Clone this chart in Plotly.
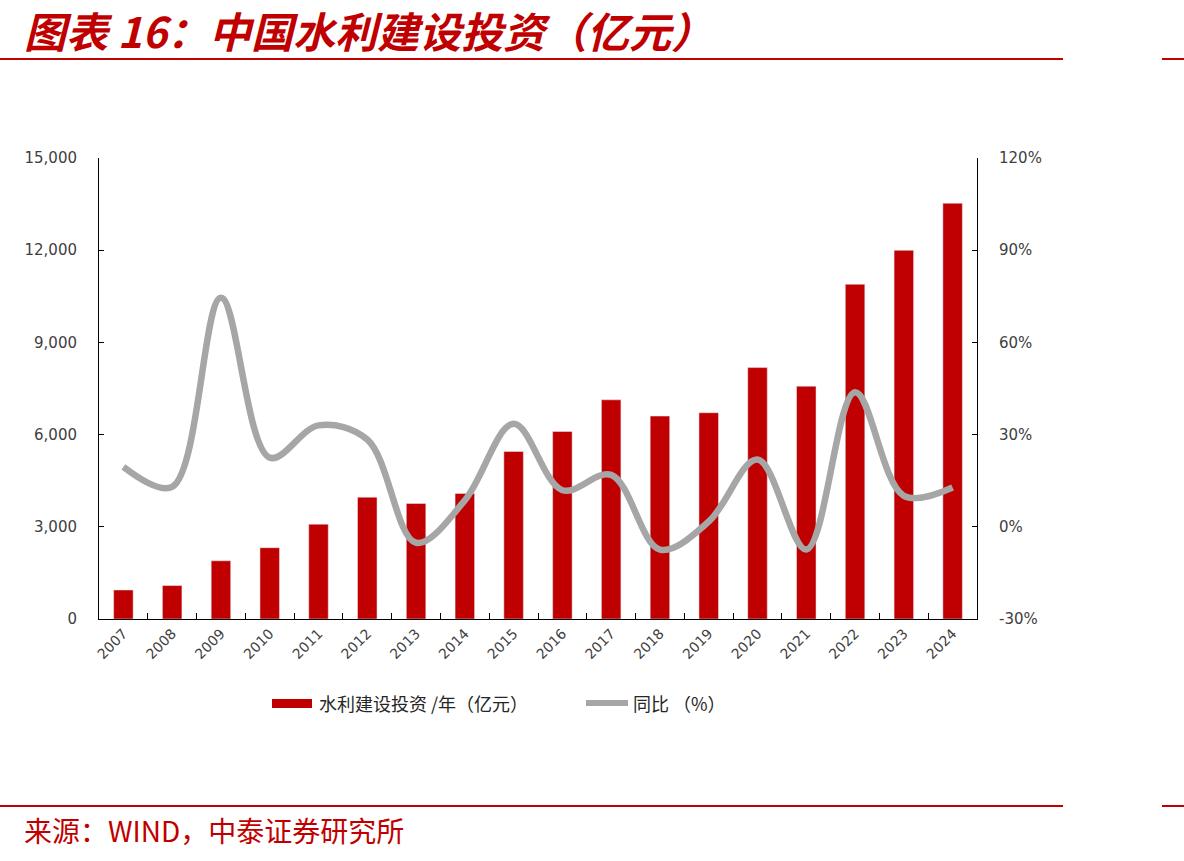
import plotly.graph_objects as go

years = ["2007", "2008", "2009", "2010", "2011", "2012", "2013", "2014", "2015",
         "2016", "2017", "2018", "2019", "2020", "2021", "2022", "2023", "2024"]
investment = [944, 1088, 1894, 2320, 3086, 3964, 3758, 4083, 5452,
              6100, 7132, 6603, 6712, 8181, 7576, 10893, 11996, 13529]
yoy = [19.5, 13.0, 74.5, 22.5, 33.0, 28.4, -5.2, 8.6, 33.5,
       11.9, 16.9, -7.4, 1.7, 21.9, -7.4, 43.8, 10.1, 12.8]

left_ticks = [0, 3000, 6000, 9000, 12000, 15000]
right_ticks = [-30, 0, 30, 60, 90, 120]

title_text = "图表 16：中国水利建设投资（亿元）"
source_text = "来源：WIND，中泰证券研究所"
bar_name = "水利建设投资 /年（亿元）"
line_name = "同比 （%）"

RED = "#C00000"
GRAY = "#A6A6A6"
TXT = "#404040"
TICKFONT = "DejaVu Sans, Verdana, sans-serif"

fig = go.Figure()
fig.add_trace(go.Bar(x=years, y=investment, name=bar_name, marker_color=RED,
                     width=0.4, yaxis="y"))
fig.add_trace(go.Scatter(x=years, y=yoy, name=line_name, mode="lines",
                         line=dict(color=GRAY, width=6.5, shape="spline", smoothing=1.0),
                         yaxis="y2"))

W, H = 1184, 861
L, R, T, B = 99, 977, 158, 619
fig.update_layout(
    width=W, height=H,
    margin=dict(l=L, r=W - R, t=T, b=H - B),
    paper_bgcolor="white", plot_bgcolor="white",
    showlegend=False,
    font=dict(family=TICKFONT, color=TXT, size=14),
    xaxis=dict(type="category", showline=True, linecolor="#000000", linewidth=1,
               ticks="inside", ticklen=6, tickcolor="#000000", tickson="boundaries",
               tickangle=-45, tickfont=dict(family=TICKFONT, size=14, color=TXT),
               showgrid=False, range=[-0.5, 17.5]),
    yaxis=dict(range=[0, 15000], tickvals=left_ticks,
               ticktext=[f"{v:,}" for v in left_ticks],
               showline=True, linecolor="#000000", linewidth=1,
               ticks="inside", ticklen=5, tickcolor="#000000",
               showgrid=False, zeroline=False,
               tickfont=dict(family=TICKFONT, size=15, color=TXT),
               ticklabelstandoff=18),
    yaxis2=dict(range=[-30, 120], tickvals=right_ticks,
                ticktext=[f"{v}%" for v in right_ticks],
                overlaying="y", side="right",
                showline=True, linecolor="#000000", linewidth=1,
                ticks="inside", ticklen=5, tickcolor="#000000",
                showgrid=False, zeroline=False,
                tickfont=dict(family=TICKFONT, size=15, color=TXT),
                ticklabelstandoff=18),
)

# convert page pixels to paper coordinates (relative to the plot area)
def px(x):
    return (x - L) / (R - L)

def py(y):
    return (B - y) / (B - T)

shapes = []
for y in (59, 806):
    shapes.append(dict(type="line", xref="paper", yref="paper",
                       x0=px(0), x1=px(1063), y0=py(y), y1=py(y),
                       line=dict(color=RED, width=2)))
    shapes.append(dict(type="line", xref="paper", yref="paper",
                       x0=px(1162), x1=px(1184), y0=py(y), y1=py(y),
                       line=dict(color=RED, width=2)))
shapes.append(dict(type="rect", xref="paper", yref="paper",
                   x0=px(272), x1=px(312), y0=py(708), y1=py(699),
                   fillcolor=RED, line=dict(width=0)))
shapes.append(dict(type="line", xref="paper", yref="paper",
                   x0=px(586), x1=px(628), y0=py(703), y1=py(703),
                   line=dict(color=GRAY, width=6)))
fig.update_layout(shapes=shapes)

annotations = [
    dict(text="<b><i>" + title_text + "</i></b>", xref="paper", yref="paper",
         x=px(22), y=py(29), xanchor="left", yanchor="middle", showarrow=False,
         font=dict(family="Noto Sans CJK SC", size=42, color=RED)),
    dict(text=source_text, xref="paper", yref="paper",
         x=px(22), y=py(830), xanchor="left", yanchor="middle", showarrow=False,
         font=dict(family="Noto Sans CJK SC", size=28, color=RED)),
    dict(text=bar_name, xref="paper", yref="paper",
         x=px(317), y=py(703), xanchor="left", yanchor="middle", showarrow=False,
         font=dict(family="Noto Sans CJK SC", size=18, color="#262626")),
    dict(text=line_name, xref="paper", yref="paper",
         x=px(631), y=py(703), xanchor="left", yanchor="middle", showarrow=False,
         font=dict(family="Noto Sans CJK SC", size=18, color="#262626")),
]
fig.update_layout(annotations=annotations)

fig.write_html("out.html")
